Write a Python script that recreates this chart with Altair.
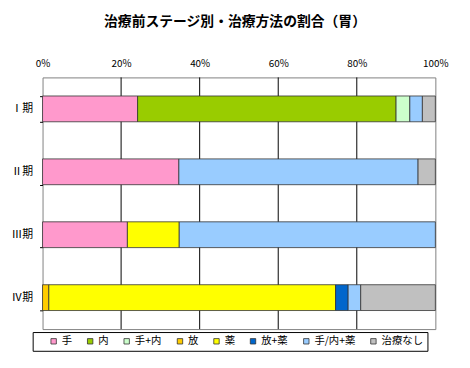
import altair as alt
import pandas as pd

stages = ["Ⅰ期", "Ⅱ期", "Ⅲ期", "Ⅳ期"]
treatments = ["手", "内", "手+内", "放", "薬", "放+薬", "手/内+薬", "治療なし"]
colors = ["#FF99CC", "#99CC00", "#CCFFCC", "#FFCC00", "#FFFF00", "#0066CC", "#99CCFF", "#C0C0C0"]

stage1 = [24.2, 65.8, 3.5, 0, 0, 0, 3.2, 3.3]
stage2 = [34.7, 0, 0, 0, 0, 0, 60.9, 4.4]
stage3 = [21.6, 0, 0, 0, 13.2, 0, 65.2, 0]
stage4 = [0, 0, 0, 1.6, 73.0, 3.2, 3.2, 19.0]

grid_values = [20, 40, 60, 80]
x_ticks = [0, 20, 40, 60, 80, 100]

rows = []
for s, vals in zip(stages, [stage1, stage2, stage3, stage4]):
    for i, (t, v) in enumerate(zip(treatments, vals)):
        if v > 0:
            rows.append({"stage": s, "treatment": t, "value": v, "order": i})
df = pd.DataFrame(rows)
grid_df = pd.DataFrame({"v": grid_values})

FONT = "Noto Sans CJK JP"
xscale = alt.Scale(domain=[0, 100], nice=False)
xaxis = alt.Axis(orient="top", values=x_ticks, labelExpr="datum.value + '%'",
                 title=None, ticks=False, domain=False, grid=False,
                 labelFont=FONT, labelFontSize=10, labelColor="#000000",
                 labelPadding=9, labelFlush=False)

grid = alt.Chart(grid_df).mark_rule(color="black", strokeWidth=1).encode(
    x=alt.X("v:Q", scale=xscale, axis=xaxis)
)

bars = alt.Chart(df).mark_bar(stroke="#333333", strokeWidth=0.8).encode(
    x=alt.X("value:Q", stack="zero", scale=xscale, axis=xaxis),
    y=alt.Y("stage:N", sort=stages,
            scale=alt.Scale(paddingInner=0.59, paddingOuter=0.295),
            axis=alt.Axis(title=None, tickBand="extent", tickSize=3, tickColor="#000000",
                          domain=False, labelFont=FONT, labelFontSize=11,
                          labelColor="#000000", labelPadding=7)),
    color=alt.Color("treatment:N", sort=treatments,
                    scale=alt.Scale(domain=treatments, range=colors),
                    legend=alt.Legend(
                        title=None, orient="none", direction="horizontal",
                        columns=8, legendX=-10, legendY=258,
                        symbolType="square", symbolSize=30, symbolStrokeColor="#333333",
                        symbolStrokeWidth=0.8, symbolOffset=12, labelOffset=3,
                        columnPadding=1, padding=4, strokeColor="#000000",
                        fillColor="#FFFFFF",
                        labelFont=FONT, labelFontSize=10.5, labelColor="#000000",
                        labelExpr="datum.label == '治療なし' ? datum.label + '　　   ' : datum.label")),
    order=alt.Order("order:Q"),
)

chart = alt.layer(grid, bars).properties(
    width=398, height=255,
    autosize=alt.AutoSizeParams(type="none"),
    padding={"left": 35, "top": 68, "right": 27, "bottom": 30},
    title=alt.TitleParams("治療前ステージ別・治療方法の割合（胃）", font=FONT, fontSize=14,
                          fontWeight="bold", anchor="middle", dx=-4, offset=30,
                          color="#000000"),
).configure_view(stroke="#808080", strokeWidth=1)

chart.save("out.html", embed_options={"renderer": "svg", "actions": False})
